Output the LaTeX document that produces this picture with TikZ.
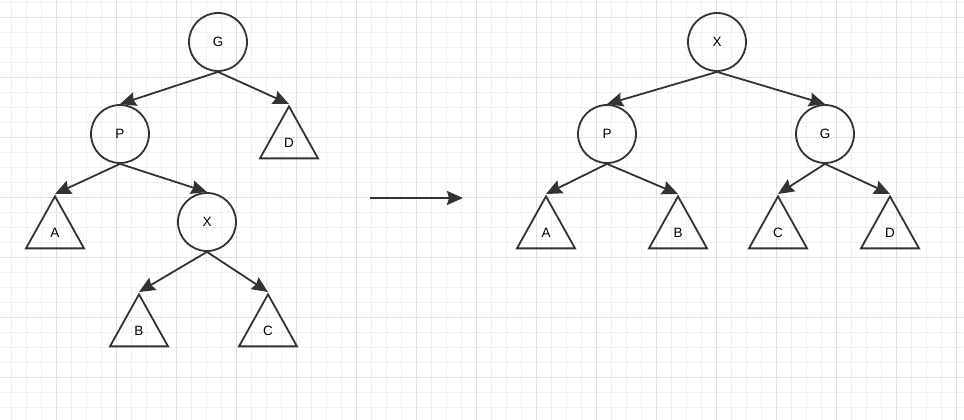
\documentclass[tikz,border=0pt]{standalone}
\usepackage{fontspec}
\setmainfont{Liberation Sans}
\usetikzlibrary{shapes.geometric,arrows.meta}
\definecolor{linegray}{HTML}{333333}
\definecolor{gridminor}{HTML}{F0F0F0}
\definecolor{gridmajor}{HTML}{E2E2E2}
\begin{document}
\begin{tikzpicture}[x=1pt,y=-1pt,
    vertex/.style={draw=linegray,line width=1.8pt,circle,minimum size=58pt,inner sep=0pt,font=\fontsize{13.5}{15}\selectfont},
    subtree/.style={draw=linegray,line width=1.8pt,isosceles triangle,shape border rotate=90,
        isosceles triangle stretches,minimum width=58pt,minimum height=52pt,inner sep=0pt,
        font=\fontsize{13.5}{15}\selectfont},
    link/.style={draw=linegray,line width=1.8pt,-{Stealth[length=16pt,width=14pt,inset=2pt]}}]
    \useasboundingbox (0,0) rectangle (964,420);
    %% grid paper
    \fill[white] (0,0) rectangle (964,420);
    \foreach \x in {11.7,26.7,...,964} \draw[gridminor,line width=0.8pt] (\x,0) -- (\x,420);
    \foreach \y in {2.3,17.3,...,420} \draw[gridminor,line width=0.8pt] (0,\y) -- (964,\y);
    \foreach \x in {56.7,116.7,...,964} \draw[gridmajor,line width=0.8pt] (\x,0) -- (\x,420);
    \foreach \y in {17.3,77.3,...,420} \draw[gridmajor,line width=0.8pt] (0,\y) -- (964,\y);
    %% tree before rotation
    \node[vertex] (g) at (218,42) {G};
    \node[vertex] (p) at (120,134) {P};
    \node[vertex] (x) at (207,222) {X};
    \node[subtree,anchor=apex] (d) at (289,104) {D};
    \node[subtree,anchor=apex] (a) at (55,194) {A};
    \node[subtree,anchor=apex] (b) at (139,292) {B};
    \node[subtree,anchor=apex] (c) at (268,292) {C};
    \draw[link] (g.south) -- (p.north);
    \draw[link] (g.south) -- (d.apex);
    \draw[link] (p.south) -- (a.apex);
    \draw[link] (p.south) -- (x.north);
    \draw[link] (x.south) -- (b.apex);
    \draw[link] (x.south) -- (c.apex);
    %% middle arrow
    \coordinate (from) at (370,198);
    \coordinate (to) at (463,198);
    \draw[link] (from) -- (to);
    %% tree after rotation
    \node[vertex] (x2) at (717,42) {X};
    \node[vertex] (p2) at (607,134) {P};
    \node[vertex] (g2) at (825,134) {G};
    \node[subtree,anchor=apex] (a2) at (546,194) {A};
    \node[subtree,anchor=apex] (b2) at (678,194) {B};
    \node[subtree,anchor=apex] (c2) at (778,194) {C};
    \node[subtree,anchor=apex] (d2) at (890,194) {D};
    \draw[link] (x2.south) -- (p2.north);
    \draw[link] (x2.south) -- (g2.north);
    \draw[link] (p2.south) -- (a2.apex);
    \draw[link] (p2.south) -- (b2.apex);
    \draw[link] (g2.south) -- (c2.apex);
    \draw[link] (g2.south) -- (d2.apex);
\end{tikzpicture}
\end{document}
